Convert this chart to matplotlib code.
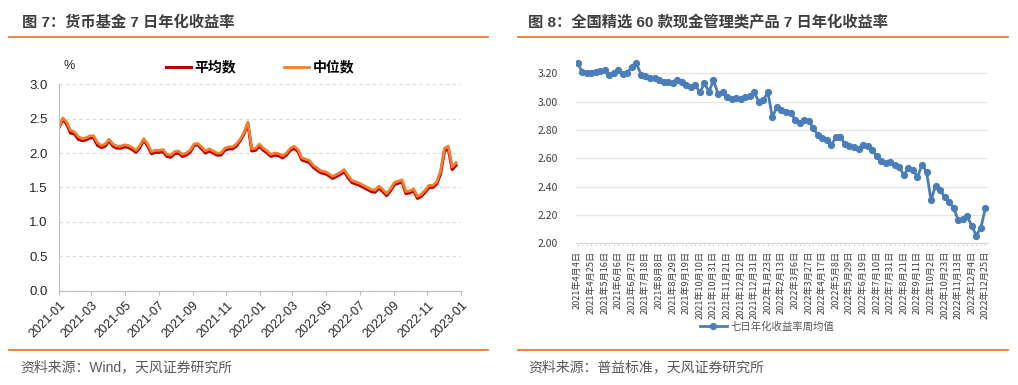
import matplotlib
matplotlib.use('Agg')
import matplotlib.pyplot as plt
import matplotlib.dates as mdates
from matplotlib.lines import Line2D
import pandas as pd

plt.rcParams['font.family'] = ['Liberation Sans', 'Noto Sans CJK SC', 'DejaVu Sans']

# ---------- data: figure 7 (weekly readings, 2021-01 .. 2022-12) ----------
left_start = '2021-01-01'
median_vals = [2.38, 2.51, 2.45, 2.33, 2.31, 2.24, 2.21, 2.22, 2.25, 2.25,
               2.15, 2.11, 2.13, 2.20, 2.13, 2.10, 2.10, 2.12, 2.11, 2.08,
               2.04, 2.11, 2.21, 2.13, 2.02, 2.04, 2.04, 2.05, 1.98, 1.97,
               2.02, 2.03, 1.98, 2.00, 2.04, 2.13, 2.14, 2.09, 2.03, 2.06,
               2.03, 2.00, 2.00, 2.07, 2.09, 2.09, 2.13, 2.20, 2.30, 2.45,
               2.06, 2.07, 2.13, 2.07, 2.03, 1.98, 2.00, 1.99, 1.96, 2.00,
               2.07, 2.10, 2.05, 1.93, 1.91, 1.89, 1.82, 1.78, 1.74, 1.73,
               1.70, 1.66, 1.69, 1.72, 1.76, 1.67, 1.60, 1.58, 1.56, 1.53,
               1.50, 1.47, 1.46, 1.52, 1.47, 1.41, 1.48, 1.57, 1.59, 1.61,
               1.44, 1.45, 1.48, 1.37, 1.40, 1.46, 1.53, 1.53, 1.58, 1.74,
               2.07, 2.10, 1.80, 1.86]
mean_vals = [2.37, 2.49, 2.42, 2.29, 2.28, 2.20, 2.18, 2.19, 2.22, 2.22,
             2.11, 2.08, 2.10, 2.18, 2.10, 2.07, 2.07, 2.09, 2.08, 2.05,
             2.01, 2.08, 2.19, 2.10, 1.99, 2.01, 2.01, 2.02, 1.95, 1.94,
             1.99, 2.00, 1.95, 1.97, 2.01, 2.11, 2.12, 2.06, 2.00, 2.03,
             2.00, 1.97, 1.97, 2.04, 2.06, 2.06, 2.10, 2.18, 2.28, 2.43,
             2.03, 2.04, 2.10, 2.04, 2.00, 1.95, 1.97, 1.96, 1.93, 1.97,
             2.04, 2.07, 2.02, 1.90, 1.88, 1.86, 1.79, 1.75, 1.71, 1.70,
             1.67, 1.63, 1.66, 1.69, 1.73, 1.64, 1.57, 1.55, 1.53, 1.50,
             1.47, 1.44, 1.43, 1.49, 1.44, 1.38, 1.45, 1.54, 1.56, 1.58,
             1.41, 1.42, 1.45, 1.34, 1.37, 1.43, 1.50, 1.50, 1.55, 1.70,
             2.03, 2.06, 1.76, 1.82]
left_dates = pd.date_range(left_start, periods=len(median_vals), freq='7D')
left_ticks = pd.date_range('2021-01-01', '2023-01-01', freq='2MS')

# ---------- data: figure 8 (weekly averages) ----------
right_vals = [3.275, 3.21, 3.20, 3.205, 3.21, 3.215, 3.22, 3.19, 3.20, 3.22,
              3.195, 3.205, 3.245, 3.27, 3.19, 3.18, 3.17, 3.17, 3.155, 3.14,
              3.14, 3.13, 3.15, 3.135, 3.12, 3.10, 3.115, 3.065, 3.13, 3.07,
              3.15, 3.055, 3.07, 3.03, 3.02, 3.025, 3.02, 3.03, 3.04, 3.065,
              3.00, 3.01, 3.066, 2.888, 2.965, 2.942, 2.93, 2.923, 2.872, 2.848,
              2.872, 2.865, 2.813, 2.766, 2.743, 2.726, 2.696, 2.747, 2.747, 2.703,
              2.689, 2.68, 2.668, 2.694, 2.689, 2.66, 2.614, 2.579, 2.567, 2.572,
              2.55, 2.539, 2.48, 2.532, 2.52, 2.466, 2.555, 2.504, 2.304, 2.407,
              2.379, 2.325, 2.292, 2.25, 2.161, 2.173, 2.19, 2.12, 2.055, 2.11,
              2.25]
right_dates = list(pd.date_range('2021-04-04', periods=len(right_vals), freq='7D'))
right_dates[39] = pd.Timestamp('2021-12-31')
right_labels = [f'{d.year}年{d.month}月{d.day}日' for d in right_dates]
right_yticks = [2.0, 2.2, 2.4, 2.6, 2.8, 3.0, 3.2]

W, H = 1018, 385
fig = plt.figure(figsize=(W / 100, H / 100), dpi=100)


def box(x0, y0, x1, y1):
    # pixel box (top-left origin) -> figure fraction rect
    return [x0 / W, 1 - y1 / H, (x1 - x0) / W, (y1 - y0) / H]


def hline(x0, x1, y):
    fig.add_artist(Line2D([x0 / W, x1 / W], [1 - y / H, 1 - y / H],
                          color='#ED7D31', lw=1.3))


title_c = '#3F3F3F'
src_c = '#595959'

# headers / footers
fig.text(22 / W, 1 - 23 / H, '图 7：货币基金 7 日年化收益率', fontsize=11,
         fontweight='bold', color=title_c, va='center')
fig.text(528 / W, 1 - 23 / H, '图 8：全国精选 60 款现金管理类产品 7 日年化收益率',
         fontsize=11, fontweight='bold', color=title_c, va='center')
hline(9, 488, 37)
hline(518, 1008, 37)
hline(9, 488, 350)
hline(518, 1008, 350)
fig.text(20 / W, 1 - 367 / H, '资料来源：Wind，天风证券研究所', fontsize=10,
         color=src_c, va='center')
fig.text(528 / W, 1 - 367 / H, '资料来源：普益标准，天风证券研究所', fontsize=10,
         color=src_c, va='center')

# ---------- left chart ----------
ax1 = fig.add_axes(box(59, 84.3, 461, 290.5))
ax1.plot(left_dates, mean_vals, color='#C00000', lw=2.2, label='平均数')
ax1.plot(left_dates, median_vals, color='#F08030', lw=2.0, label='中位数')
ax1.set_ylim(0, 3.0)
ax1.set_yticks([0, 0.5, 1.0, 1.5, 2.0, 2.5, 3.0])
ax1.yaxis.set_major_formatter(plt.FormatStrFormatter('%.1f'))
ax1.set_xlim(pd.Timestamp('2021-01-01'), pd.Timestamp('2023-01-01'))
ax1.set_xticks(left_ticks)
ax1.xaxis.set_major_formatter(mdates.DateFormatter('%Y-%m'))
for lab in ax1.get_xticklabels():
    lab.set_rotation(45)
    lab.set_ha('right')
    lab.set_rotation_mode('anchor')
ax1.tick_params(axis='x', labelsize=9, colors='#262626', length=3, color='#BFBFBF')
ax1.tick_params(axis='y', labelsize=9.5, colors='#262626', length=0, pad=8)
ax1.grid(axis='y', ls=(0, (3, 3)), color='#D9D9D9', lw=0.8)
for s in ['top', 'right']:
    ax1.spines[s].set_visible(False)
for s in ['left', 'bottom']:
    ax1.spines[s].set_color('#BFBFBF')
ax1.text(0.012, 1.09, '%', transform=ax1.transAxes, fontsize=9, color='#262626',
         va='center')
leg = ax1.legend(ncol=2, loc='center', frameon=False, bbox_to_anchor=(0.5, 1.08),
                 prop={'size': 10, 'weight': 'bold'}, handlelength=1.8,
                 handletextpad=0.3, columnspacing=3.4)

# ---------- right chart ----------
ax2 = fig.add_axes(box(575.7, 59.1, 987.7, 243.3))
xs = list(range(len(right_vals)))
ax2.plot(xs, right_vals, color='#4A7EBB', lw=2.0, marker='o', ms=4.2,
         label='七日年化收益率周均值')
ax2.set_ylim(2.0, 3.3)
ax2.set_xlim(-0.4, len(right_vals) - 0.5)
ax2.set_yticks(right_yticks)
ax2.yaxis.set_major_formatter(plt.FormatStrFormatter('%.2f'))
ax2.set_xticks(xs[::3])
ax2.set_xticklabels(right_labels[::3], rotation=90, fontsize=6.6, color='#404040',
                    family=['Noto Sans CJK SC'])
ax2.set_xticks(xs, minor=True)
ax2.tick_params(axis='x', which='both', length=2.5, color='#D9D9D9', pad=3)
ax2.tick_params(axis='y', labelsize=7.5, colors='#404040', length=0, pad=13)
for lab in ax2.get_yticklabels():
    lab.set_family(['Noto Sans CJK SC'])
ax2.grid(axis='y', color='#E6E6E6', lw=1.0)
ax2.set_axisbelow(True)
for s in ['top', 'right', 'left']:
    ax2.spines[s].set_visible(False)
ax2.spines['bottom'].set_color('#D9D9D9')
fig.legend(handles=ax2.get_lines(), loc='center', frameon=False,
           bbox_to_anchor=(767 / W, 1 - 327 / H),
           prop={'size': 7.5, 'family': ['Noto Sans CJK SC']},
           labelcolor='#595959', handlelength=2.6, handletextpad=0.4)

fig.savefig('out.png', dpi=100)
